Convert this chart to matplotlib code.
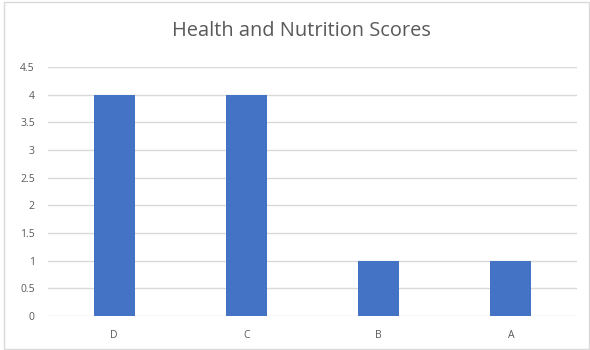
import numpy as np
import matplotlib
matplotlib.use('Agg')
import matplotlib.pyplot as plt
from matplotlib.patches import Rectangle

categories = ['D', 'C', 'B', 'A']
scores = [4, 4, 1, 1]
yticks = np.arange(0, 4.51, 0.5)
ytick_labels = ['0', '0.5', '1', '1.5', '2', '2.5', '3', '3.5', '4', '4.5']

plt.rcParams['font.family'] = ['Open Sans', 'DejaVu Sans']

fig = plt.figure(figsize=(5.9, 3.5), dpi=100)
ax = fig.add_axes([48/590, 1 - 316/350, (577 - 48)/590, (316 - 67)/350])

x = np.arange(len(categories))
ax.bar(x, scores, width=0.31, color='#4472C4', zorder=3)

ax.set_xlim(-0.5, len(categories) - 0.5)
ax.set_ylim(0, 4.5)
ax.set_yticks(yticks)
ax.set_yticklabels(ytick_labels)
ax.set_xticks(x)
ax.set_xticklabels(categories)
ax.tick_params(axis='both', length=0, labelsize=7.5, colors='#595959')
ax.tick_params(axis='y', pad=9.5)
ax.tick_params(axis='x', pad=10)
ax.grid(axis='y', color='#D9D9D9', linewidth=1, zorder=0)
for s in ax.spines.values():
    s.set_visible(False)

fig.text(301/590, 1 - 31/350, 'Health and Nutrition Scores', ha='center', va='center',
         fontsize=14.4, color='#595959')

# light chart border
fig.patches.append(Rectangle((4/590, 1/350), 585/590, 347/350, transform=fig.transFigure,
                             fill=False, edgecolor='#D9D9D9', linewidth=1))

fig.savefig('out.png', dpi=100)
plt.close(fig)
